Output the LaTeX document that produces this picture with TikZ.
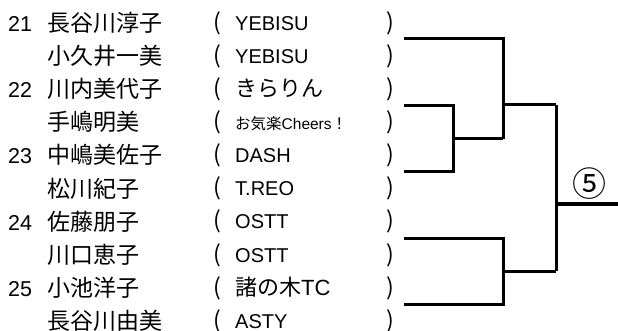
\documentclass[tikz,border=0pt]{standalone}
\usepackage{fontspec}
\setmainfont{Noto Sans CJK JP}
\newfontfamily\latin{Liberation Sans}

\begin{document}
\begin{tikzpicture}[x=1pt,y=-1pt,
    txt/.style={anchor=base west,inner sep=0pt,font=\fontsize{23}{27}\selectfont},
    lat/.style={anchor=base west,inner sep=0pt,font=\latin\fontsize{20}{24}\selectfont},
    bracket/.style={line width=3pt}]
        \useasboundingbox (0,0) rectangle (618,331);

        % Entries
        \foreach \i/\num/\name/\team in {1/21/長谷川淳子/YEBISU,2//小久井一美/YEBISU,
            3/22/川内美代子/{\fontsize{22}{26}\selectfont\rmfamily きらりん},
            4//手嶋明美/{\fontsize{15.5}{18}\selectfont\rmfamily お気楽{\latin Cheers}！},
            5/23/中嶋美佐子/DASH,6//松川紀子/T.REO,7/24/佐藤朋子/OSTT,8//川口恵子/OSTT,
            9/25/小池洋子/{\fontsize{22}{26}\selectfont\rmfamily 諸の木{\latin TC}},10//長谷川由美/ASTY} {
            \node[lat,font=\latin\fontsize{21.5}{25}\selectfont] (num\i) at (8,{32+33*(\i-1)}) {\num};
            \node[txt] (name\i) at (47,{32+33*(\i-1)}) {\name};
            \node[txt] (open\i) at (213,{31+33*(\i-1)}) {(};
            \node[lat] (team\i) at (235,{31+33*(\i-1)}) {\team};
            \node[txt] (close\i) at (386,{31+33*(\i-1)}) {)};
        }

        % Bracket
        \coordinate (m21) at (404,39);
        \coordinate (m22) at (404,106);
        \coordinate (m23) at (404,172);
        \coordinate (m24) at (404,238);
        \coordinate (m25) at (404,304);
        \coordinate (j2223) at (453,139);
        \coordinate (jtop) at (503,105);
        \coordinate (jbot) at (503,271);
        \coordinate (win) at (618,204);
        \draw[bracket] (m22) -| (453,172) -- (m23);
        \draw[bracket] (j2223) -- (503,139);
        \draw[bracket] (m21) -| (503,139);
        \draw[bracket] (jtop) -- (556,105);
        \draw[bracket] (m24) -| (503,304) -- (m25);
        \draw[bracket] (jbot) -- (556,271);
        \draw[bracket] (556,105) -- (556,271);
        \draw[bracket] (556,204) -- (win);
        \node[font=\fontsize{34}{38}\selectfont,inner sep=0pt] (rnd) at (589,184) {⑤};
      \end{tikzpicture}
\end{document}
